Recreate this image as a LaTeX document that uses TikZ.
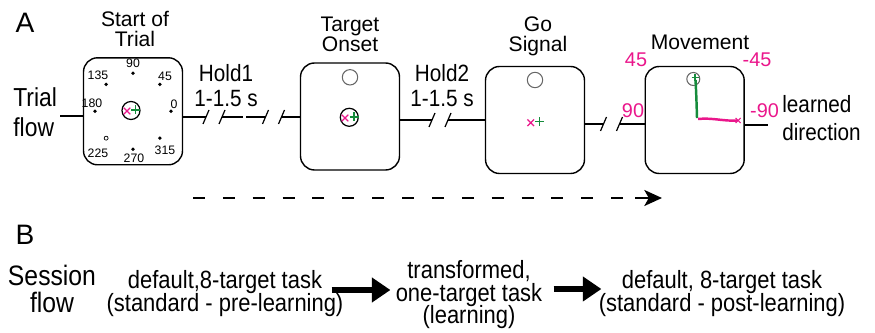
\documentclass[tikz,border=0pt]{standalone}
\usepackage{fontspec}
\setmainfont{Liberation Sans}
\newfontfamily\narrowsans[FakeStretch=0.88]{Liberation Sans}
\usetikzlibrary{arrows.meta,calc}

\definecolor{cursorpink}{RGB}{234,22,139}
\definecolor{handgreen}{RGB}{22,140,60}

\tikzset{
  screen/.style={draw,line width=0.8pt,rounded corners=0.28cm,minimum width=1.98cm,minimum height=2.14cm},
  flowline/.style={line width=0.7pt},
  panel/.style={font=\fontsize{16}{18}\selectfont},
  phase/.style={font=\fontsize{12}{11.4}\selectfont,align=center},
  holdtext/.style={font=\narrowsans\fontsize{13.4}{14.2}\selectfont,align=center},
  sidetext/.style={align=left,anchor=west},
  degtext/.style={text=cursorpink,font=\fontsize{11.3}{12}\selectfont,anchor=base},
  tlabel/.style={font=\fontsize{7}{8}\selectfont},
  sesstext/.style={font=\narrowsans\fontsize{14.2}{13}\selectfont,align=center},
  ring/.style={line width=0.7pt},
  cue/.style={draw=black!60,line width=0.6pt},
  timedash/.style={line width=1.7pt,dash pattern=on 6.8pt off 10.2pt},
  timetip/.style={line width=1.7pt,-{Stealth[length=10pt,width=9pt,inset=2.5pt]}},
  bigarrow/.style={line width=3.8pt,-{Triangle[length=10.5pt,width=13.5pt]}},
  brk/.pic={
    \fill[white] (-8,-3) rectangle (8,3);
    \draw[flowline] (-11,7) -- (-5,-7);
    \draw[flowline] (5,7) -- (11,-7);
  },
  xmark/.pic={\draw[cursorpink,line width=0.7pt] (-3.3,-3.3) -- (3.3,3.3) (-3.3,3.3) -- (3.3,-3.3);},
  pmark/.pic={\draw[handgreen,line width=0.7pt] (-4.5,0) -- (4.5,0) (0,-4.5) -- (0,4.5);}
}
\tikzstyle{every node}=[inner sep=0pt]

\begin{document}
\setlength{\lineskiplimit}{-10pt}
\begin{tikzpicture}[x=0.02cm,y=-0.02cm]
    \useasboundingbox (0,0) rectangle (875,333);

    % A: one trial
    \node[panel] (pA) at (25,23) {A};
    \node[screen] (start) at (133,111.3) {};
    \node[screen] (onset) at (350,116.5) {};
    \node[screen] (go) at (535,120) {};
    \node[screen] (move) at (694.7,120) {};

    \node[phase] (tstart) at (135,29.2) {Start of\\Trial};
    \node[phase] (tonset) at (350,34) {Target\\Onset};
    \node[phase] (tgo) at (538,36.2) {Go\\Signal};
    \node[phase,anchor=base] (tmove) at (700,49.3) {Movement};

    \node[sidetext,font=\narrowsans\fontsize{14.8}{17}\selectfont] (trialflow) at (13,112.5) {Trial\\flow};
    \node[holdtext] (hold1) at (226,85.9) {Hold1\\1-1.5 s};
    \node[holdtext] (hold2) at (442,85.9) {Hold2\\1-1.5 s};
    \node[sidetext,font=\narrowsans\fontsize{13.4}{16}\selectfont] (learned) at (782,118.5) {learned\\direction};

    % flow line with the hold breaks
    \coordinate (flowin) at (60,116);
    \coordinate (flowout) at (768,125);
    \draw[flowline] (flowin) -- (flowin -| start.west);
    \draw[flowline] (start.east |- 0,117) -- (onset.west |- 0,117);
    \draw[flowline] (onset.east |- 0,120) -- (go.west |- 0,120);
    \draw[flowline] (go.east |- 0,124) -- (move.west |- 0,124);
    \draw[flowline] (move.east |- flowout) -- (flowout);
    \pic at (214,117) {brk};
    \pic at (273.5,117) {brk};
    \fill[white] (243,115) rectangle (246,119);
    \pic at (440,120) {brk};
    \pic at (611.5,124) {brk};

    % eight targets
    \foreach \a in {0,45,90,135,180,270,315}
        \fill (start) ++(-\a:38) circle (1.9);
    \draw[fill=white,line width=0.4pt] (start) ++(-225:38) circle (2);
    \foreach \a/\lx/\ly in {0/41/-7,45/32/-35,90/0/-48,135/-35/-36,180/-41/-8,225/-35/42,270/1/47,315/32/39}
        \node[tlabel] (t\a) at ($(start)+(\lx,\ly)$) {\a};

    % center hold and cursor
    \draw[ring] (131,110.5) circle (9);
    \pic at (127,111) {xmark};
    \pic at (135.5,110) {pmark};

    \draw[cue] (350,77.3) circle (7.7);
    \draw[ring] (349.3,117.3) circle (9);
    \pic at (345,118) {xmark};
    \pic at (354,117) {pmark};

    \draw[cue] (535,80) circle (7.7);
    \pic at (530.7,122.7) {xmark};
    \pic at (539.3,121.7) {pmark};

    % movement: hand goes up, cursor goes right
    \draw[cue] (693.3,79) circle (6.5);
    \draw[handgreen,line width=0.6pt] (691.5,77.5) -- (698.5,77.5) (695,74) -- (695,81);
    \draw[handgreen,line width=1.4pt] (697,118) .. controls (696.5,100) and (696,88) .. (695.5,80);
    \draw[cursorpink,line width=1.4pt] (698,119) .. controls (712,117.5) and (725,121.5) .. (737,120.5);
    \draw[cursorpink,line width=0.6pt] (735.5,118) -- (740.5,123) (735.5,123) -- (740.5,118);

    \node[degtext] (d45) at (636,67) {45};
    \node[degtext] (dm45) at (757,66.7) {-45};
    \node[degtext] (d90) at (633,118) {90};
    \node[degtext] (dm90) at (764.5,118) {-90};

    % time runs on
    \coordinate (t0) at (193,198);
    \coordinate (t1) at (662,198);
    \draw[timedash] (t0) -- ($(t1)+(-20,0)$);
    \draw[timetip] ($(t1)+(-27,0)$) -- (t1);

    % B: the sessions
    \node[panel] (pB) at (25,235) {B};
    \node[font=\narrowsans\fontsize{16}{15.4}\selectfont,align=center] (sflow) at (52,289.2) {Session\\flow};
    \node[sesstext] (pre) at (225,293.9) {default,8-target task\\(standard - pre-learning)};
    \node[sesstext] (trans) at (469,294.6) {transformed,\\one-target task\\(learning)};
    \node[sesstext] (post) at (722,293.2) {default, 8-target task\\(standard - post-learning)};
    \draw[bigarrow] ($(pre.east)+(-12,-3.9)$) -- ($(trans.west)+(-5,-4.6)$);
    \draw[bigarrow] ($(trans.east)+(11,-5.6)$) -- ($(post.west)+(3,-4.2)$);
\end{tikzpicture}
\end{document}
